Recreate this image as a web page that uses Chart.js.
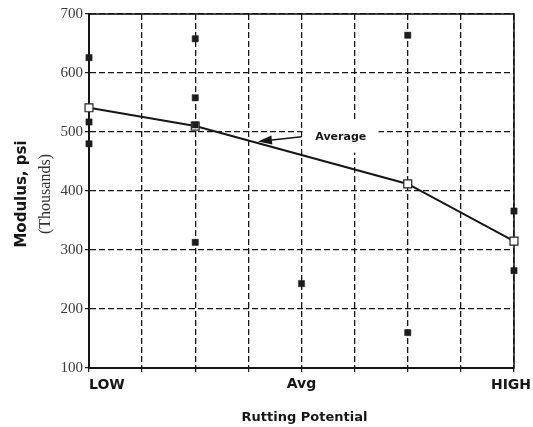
<!DOCTYPE html>
<html><head><meta charset="utf-8">
<script src="https://cdn.jsdelivr.net/npm/chart.js@4/dist/chart.umd.min.js"></script>
<style>html,body{margin:0;padding:0;background:#fff}#wrap{width:533px;height:427px;position:relative}</style>
</head><body><div id="wrap"><canvas id="c" width="533" height="427"></canvas></div>
<script>
// ---- data ----
const categoryLabels = ['LOW', 'Avg', 'HIGH'];
const categoryPositions = [0, 4, 8];
const sampleX = [0, 0, 0, 2, 2, 2, 2, 4, 6, 6, 8, 8];
const sampleModulus = [626, 517, 480, 658, 558, 512, 313, 243, 664, 160, 366, 265];
const averageX = [0, 2, 6, 8];
const averageModulus = [541, 510, 412, 315];
const yMin = 100, yMax = 700, yStep = 100;
const xMin = 0, xMax = 8;
const annotationText = 'Average';
const xTitle = 'Rutting Potential';
const yTitle = 'Modulus, psi';
const yUnit = '(Thousands)';

const samplePoints = sampleX.map((x, i) => ({x, y: sampleModulus[i]}));
const averagePoints = averageX.map((x, i) => ({x, y: averageModulus[i]}));

const INK = '#161616';

const deco = {
  id: 'deco',
  beforeDatasetsDraw(chart) {
    const {ctx, chartArea: a, scales: {x, y}} = chart;
    ctx.save();
    // white box behind the annotation label
    const bx1 = x.getPixelForValue(4.02), bx2 = x.getPixelForValue(5.45);
    const by1 = y.getPixelForValue(519), by2 = y.getPixelForValue(465);
    ctx.fillStyle = '#fff';
    ctx.fillRect(bx1, by1, bx2 - bx1, by2 - by1);
    // solid frame
    ctx.strokeStyle = INK; ctx.lineWidth = 1.6; ctx.setLineDash([]);
    ctx.strokeRect(a.left, a.top, a.right - a.left, a.bottom - a.top);
    ctx.restore();
  },
  afterDraw(chart) {
    const {ctx, chartArea: a, scales: {x, y}} = chart;
    ctx.save();
    ctx.fillStyle = INK; ctx.strokeStyle = INK;
    // annotation arrow
    const sx = x.getPixelForValue(4.0), sy = y.getPixelForValue(492);
    const tx = x.getPixelForValue(3.18), ty = y.getPixelForValue(484);
    const ang = Math.atan2(ty - sy, tx - sx);
    const hl = 14, hw = 4.5;
    const bxp = tx - hl * Math.cos(ang), byp = ty - hl * Math.sin(ang);
    ctx.lineWidth = 1.5;
    ctx.beginPath(); ctx.moveTo(sx, sy); ctx.lineTo(bxp, byp); ctx.stroke();
    ctx.beginPath();
    ctx.moveTo(tx, ty);
    ctx.lineTo(bxp + hw * Math.sin(ang), byp - hw * Math.cos(ang));
    ctx.lineTo(bxp - hw * Math.sin(ang), byp + hw * Math.cos(ang));
    ctx.closePath(); ctx.fill();
    // annotation text
    ctx.font = 'bold 11px "DejaVu Sans"';
    ctx.textAlign = 'left'; ctx.textBaseline = 'middle';
    ctx.fillText(annotationText, x.getPixelForValue(4.26), y.getPixelForValue(491.5));
    // category labels
    ctx.font = 'bold 14px "DejaVu Sans"';
    ctx.textBaseline = 'middle';
    categoryLabels.forEach((lab, i) => {
      const p = x.getPixelForValue(categoryPositions[i]);
      if (i === 0) { ctx.textAlign = 'left'; ctx.fillText(lab, p, a.bottom + 17); }
      else if (i === categoryLabels.length - 1) { ctx.textAlign = 'center'; ctx.fillText(lab, p - 3, a.bottom + 17); }
      else { ctx.textAlign = 'center'; ctx.fillText(lab, p, a.bottom + 16); }
    });
    // x title
    ctx.font = 'bold 13px "DejaVu Sans"';
    ctx.textAlign = 'center';
    ctx.fillText(xTitle, (a.left + a.right) / 2 + 3, a.bottom + 50);
    // y title (two parts, rotated)
    const cy = (a.top + a.bottom) / 2 + 3;
    ctx.save();
    ctx.translate(a.left - 66.5, cy); ctx.rotate(-Math.PI / 2);
    ctx.font = 'bold 15px "DejaVu Sans"'; ctx.textAlign = 'center'; ctx.textBaseline = 'middle';
    ctx.fillText(yTitle, 0, 0);
    ctx.restore();
    ctx.save();
    ctx.translate(a.left - 43, cy); ctx.rotate(-Math.PI / 2);
    ctx.font = '16px "Liberation Serif"'; ctx.textAlign = 'center'; ctx.textBaseline = 'middle';
    ctx.fillStyle = '#333';
    ctx.fillText(yUnit, 0, 0);
    ctx.restore();
    ctx.restore();
  }
};

new Chart(document.getElementById('c'), {
  type: 'scatter',
  data: {
    datasets: [
      {
        label: 'Samples', data: samplePoints, showLine: false, clip: false,
        pointStyle: 'rect', pointRadius: 4.4, pointHoverRadius: 4.4,
        pointBackgroundColor: '#1c1c1c', pointBorderColor: '#1c1c1c', pointBorderWidth: 0.5
      },
      {
        label: 'Average', data: averagePoints, showLine: true, clip: false,
        borderColor: INK, borderWidth: 2, tension: 0,
        pointStyle: 'rect', pointRadius: 5.6, pointHoverRadius: 5.6,
        pointBackgroundColor: '#fff', pointBorderColor: '#222', pointBorderWidth: 1.2
      }
    ]
  },
  options: {
    responsive: false, animation: false, devicePixelRatio: 1,
    layout: {padding: {top: 14, right: 19, left: 0, bottom: 0}},
    plugins: {legend: {display: false}, tooltip: {enabled: false}},
    scales: {
      x: {
        type: 'linear', min: xMin, max: xMax,
        ticks: {stepSize: 1, display: false},
        grid: {color: INK, lineWidth: 1.3, tickLength: 4, tickColor: INK, tickWidth: 1.2},
        border: {display: true, color: INK, width: 2, dash: [6, 3]},
        afterFit(s) { s.height = 59; }
      },
      y: {
        min: yMin, max: yMax,
        ticks: {stepSize: yStep, color: '#3a3a3a', padding: 2, font: {family: '"Liberation Serif"', size: 15}},
        grid: {color: INK, lineWidth: 1.3, tickLength: 4, tickColor: INK, tickWidth: 1.2},
        border: {display: true, color: INK, width: 2, dash: [6, 3]},
        afterFit(s) { s.width = 89; }
      }
    }
  },
  plugins: [deco]
});
</script></body></html>
